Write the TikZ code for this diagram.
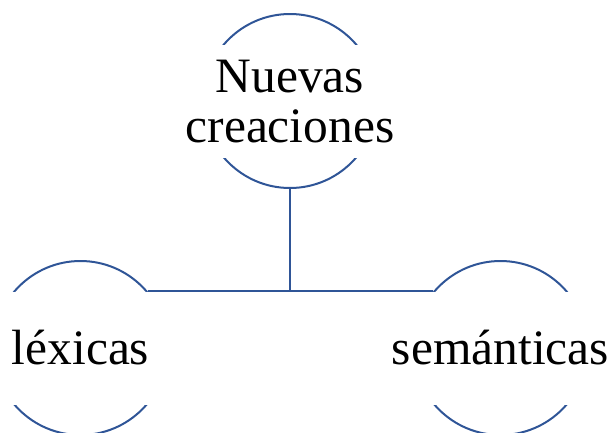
\documentclass[tikz,border=0pt]{standalone}
\usepackage{fontspec}
\setmainfont{Liberation Serif}
\usetikzlibrary{calc}

\definecolor{ramablue}{RGB}{47,85,151}

\begin{document}
\begin{tikzpicture}[x=1pt,y=1pt]

    \tikzset{
      rama/.style={
        circle,
        draw=ramablue,
        line width=2pt,
        minimum size=174pt,
        inner sep=0pt,
      },
      etiqueta/.style={
        fill=white,
        inner sep=0pt,
        minimum width=180pt,
        minimum height=113pt,
        align=center,
        font=\fontsize{49.5}{50}\selectfont,
      },
      enlace/.style={
        draw=ramablue,
        line width=2pt,
      },
    }
    \useasboundingbox (0,0) rectangle (613,-432);
	\node[rama] (nuevas) at (290,-101) {};
	\node[rama] (lexicas) at (80.5,-348) {};
	\node[rama] (semanticas) at (500.5,-348) {};
	\node[etiqueta] (nuevas-t) at (290,-101.5) {Nuevas\\creaciones};
	\node[etiqueta] (lexicas-t) at (80.5,-348) {léxicas};
	\node[etiqueta] (semanticas-t) at (500.5,-348) {semánticas};
	\draw[enlace] (lexicas.40) -- (semanticas.140);
	\draw[enlace] (nuevas.south) -- (nuevas.south |- lexicas.40);

\end{tikzpicture}
\end{document}
